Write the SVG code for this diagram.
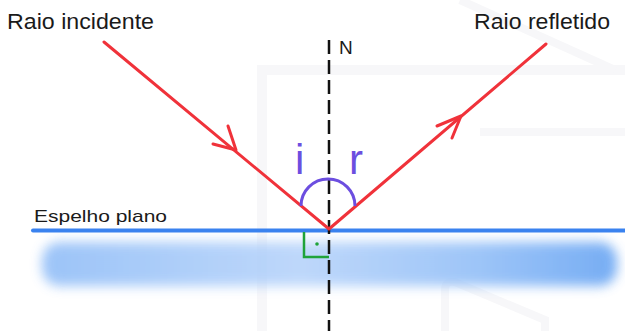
<svg xmlns="http://www.w3.org/2000/svg" width="625" height="331" viewBox="0 0 625 331">
<style>
.lbl{font-family:"Futura","Century Gothic","Liberation Sans",sans-serif;fill:#1a1a1a}
.ray{stroke:#f0323a;stroke-width:3;fill:none;stroke-linecap:round;stroke-linejoin:round}
.wm{stroke:#f7f7f9;fill:none}
.ang{font-family:"Liberation Sans",sans-serif;font-size:42px;fill:#6c4ee0}
</style>
<defs>
<filter id="blur" x="-10%" y="-60%" width="120%" height="220%"><feGaussianBlur stdDeviation="6"/></filter>
<linearGradient id="bg" x1="0" x2="1" y1="0" y2="0">
<stop offset="0" stop-color="#8bbaf7"/><stop offset="0.45" stop-color="#b3d1fa"/><stop offset="0.75" stop-color="#8ebcf7"/><stop offset="1" stop-color="#5f9ff2"/>
</linearGradient>
</defs>
<rect width="625" height="331" fill="#ffffff"/>
<g id="watermark">
<path class="wm" stroke-width="10" d="M262 331 V70 H625"/>
<path class="wm" stroke-width="8" d="M460 0 L615 70"/>
<path class="wm" stroke-width="8" d="M480 132 H625"/>
<path class="wm" stroke-width="8" d="M445 331 V290 Q445 280 455 282 L545 320 V331"/>
</g>
<g id="mirror">
<rect x="42" y="242" width="575" height="44" rx="18" fill="url(#bg)" filter="url(#blur)" opacity="0.85"/>
<line x1="33" y1="230.5" x2="625" y2="230.5" stroke="#3a82ef" stroke-width="4" stroke-linecap="round"/>
<text class="lbl" x="34" y="222" font-size="17" textLength="133" lengthAdjust="spacingAndGlyphs">Espelho plano</text>
</g>
<g id="normal">
<line x1="329" y1="40" x2="329" y2="331" stroke="#111" stroke-width="2.5" stroke-dasharray="14 6"/>
<text class="lbl" x="339" y="54" font-size="19">N</text>
</g>
<g id="right-angle">
<path d="M304 232 V257 H329" fill="none" stroke="#1fa33a" stroke-width="2.5"/>
<circle cx="317" cy="244" r="1.8" fill="#1fa33a"/>
</g>
<g id="connectors">
<path class="ray" d="M104 42 L329 229 L546 44"/>
<path class="ray" d="M228 126 L236 150 L213 144"/>
<path class="ray" d="M437 126 L461 116 L452 138"/>
</g>
<g id="angles">
<path d="M301 206 A27 27 0 0 1 355 206" fill="none" stroke="#6c4ee0" stroke-width="3"/>
<text class="ang" x="295" y="174">i</text>
<text class="ang" x="349" y="174">r</text>
</g>
<g id="label-incidente"><text class="lbl" x="7" y="29" font-size="22" textLength="147" lengthAdjust="spacingAndGlyphs">Raio incidente</text></g>
<g id="label-refletido"><text class="lbl" x="474" y="29" font-size="22" textLength="136" lengthAdjust="spacingAndGlyphs">Raio refletido</text></g>
</svg>
